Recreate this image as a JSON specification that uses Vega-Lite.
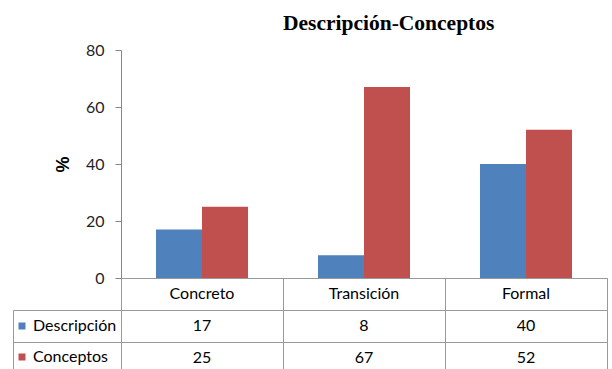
{
  "$schema": "https://vega.github.io/schema/vega-lite/v6.json",
  "padding": {"left": 12, "top": 12, "right": 2, "bottom": 0},
  "background": "white",
  "title": {"text": "Descripción-Conceptos", "font": "Liberation Serif", "fontSize": 21.5, "fontWeight": "bold", "color": "#000", "anchor": "start", "frame": "group", "dx": 162, "offset": 8},
  "datasets": {
    "d": [
      {"categoria": "Concreto", "serie": "Descripción", "valor": 17},
      {"categoria": "Concreto", "serie": "Conceptos", "valor": 25},
      {"categoria": "Transición", "serie": "Descripción", "valor": 8},
      {"categoria": "Transición", "serie": "Conceptos", "valor": 67},
      {"categoria": "Formal", "serie": "Descripción", "valor": 40},
      {"categoria": "Formal", "serie": "Conceptos", "valor": 52}
    ]
  },
  "spacing": 0,
  "bounds": "flush",
  "vconcat": [
    {
      "width": 486,
      "height": 228,
      "view": {"stroke": null},
      "data": {"name": "d"},
      "mark": {"type": "bar"},
      "encoding": {
        "x": {"field": "categoria", "type": "nominal", "sort": ["Concreto", "Transición", "Formal"], "scale": {"paddingInner": 0.432, "paddingOuter": 0.216},
              "axis": {"labels": false, "ticks": false, "title": null, "grid": false, "domainColor": "#999999"}},
        "xOffset": {"field": "serie", "type": "nominal", "sort": ["Descripción", "Conceptos"]},
        "y": {"field": "valor", "type": "quantitative", "scale": {"domain": [0, 80], "nice": false},
              "axis": {"values": [0, 20, 40, 60, 80], "title": "%", "titleFont": "Liberation Sans", "titleFontSize": 18, "titleFontWeight": "bold", "titleColor": "#000", "titlePadding": 13,
                       "grid": false, "tickSize": 6, "labelPadding": 11, "labelFont": "Lato", "labelFontSize": 16, "labelColor": "#1f1f1f", "domainColor": "#868686", "tickColor": "#868686"}},
        "color": {"field": "serie", "type": "nominal", "sort": ["Descripción", "Conceptos"], "scale": {"range": ["#4F81BD", "#C0504D"]},
                  "legend": {"title": null, "orient": "none", "legendX": -107, "legendY": 268, "symbolType": "square", "symbolSize": 49, "symbolStrokeWidth": 0,
                             "labelFont": "Lato", "labelFontSize": 16, "labelColor": "#000", "labelOffset": 3, "rowPadding": 15, "padding": 0, "direction": "vertical"}}
      }
    },
    {
      "width": 486,
      "height": 96,
      "view": {"stroke": "#999999"},
      "data": {"name": "d"},
      "encoding": {
        "x": {"field": "categoria", "type": "nominal", "sort": ["Concreto", "Transición", "Formal"], "scale": {"padding": 0},
              "axis": {"orient": "top", "labels": false, "ticks": false, "domain": false, "title": null, "grid": true, "gridColor": "#999999", "tickBand": "extent"}}
      },
      "layer": [
        {
          "transform": [{"filter": "datum.serie == 'Descripción'"}],
          "mark": {"type": "text", "font": "Lato", "fontSize": 16, "color": "#000"},
          "encoding": {
            "y": {"datum": "header", "type": "nominal", "scale": {"domain": ["header", "Descripción", "Conceptos"], "padding": 0},
                  "axis": {"title": null, "labels": false, "offset": 108, "tickSize": -108, "tickBand": "extent", "values": ["Descripción", "Conceptos"], "tickColor": "#999999", "domainColor": "#999999", "domainDash": [0, 32, 64], "grid": true, "gridColor": "#999999"}},
            "text": {"field": "categoria"}
          }
        },
        {
          "mark": {"type": "text", "font": "Lato", "fontSize": 16, "color": "#000"},
          "encoding": {
            "y": {"field": "serie", "type": "nominal", "scale": {"domain": ["header", "Descripción", "Conceptos"], "padding": 0},
                  "axis": {"title": null, "labels": false, "offset": 108, "tickSize": -108, "tickBand": "extent", "values": ["Descripción", "Conceptos"], "tickColor": "#999999", "domainColor": "#999999", "domainDash": [0, 32, 64], "grid": true, "gridColor": "#999999"}},
            "text": {"field": "valor"}
          }
        }
      ]
    }
  ]
}
